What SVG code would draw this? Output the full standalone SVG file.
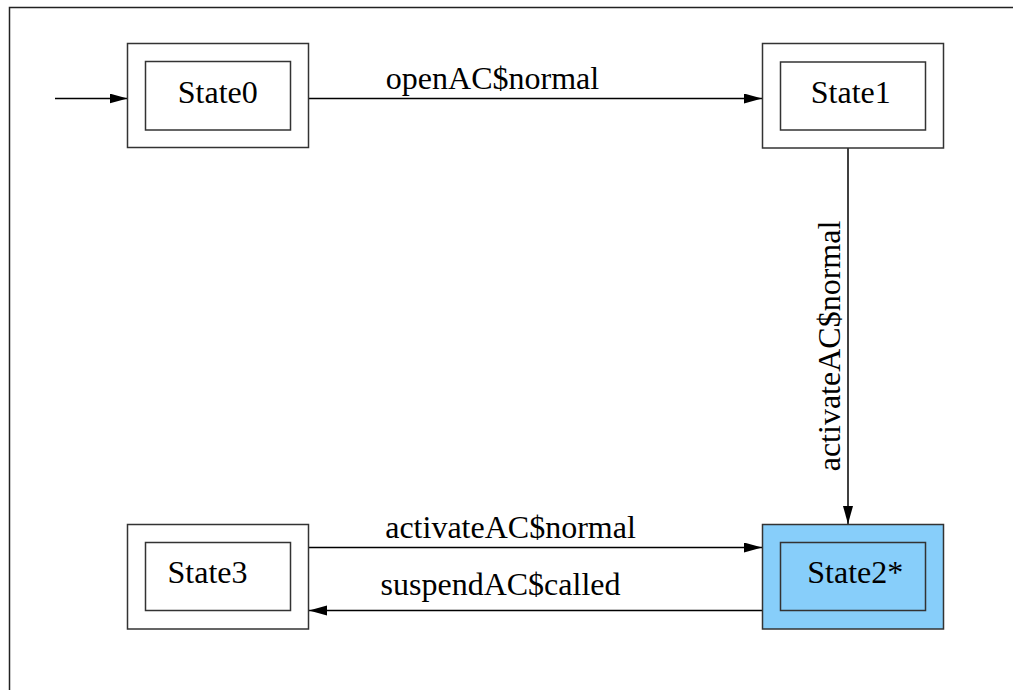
<svg xmlns="http://www.w3.org/2000/svg" width="1013" height="690" viewBox="0 0 1013 690">
  <style>
    .outer { fill: #ffffff; stroke: #333333; stroke-width: 1.5; }
    .inner { fill: none; stroke: #333333; stroke-width: 1.5; }
    .hl { fill: #87CEFA; }
    .lbl { font-family: "Liberation Serif", "Times New Roman", serif; font-size: 32px; fill: #000000; }
    .edge { fill: none; stroke: #000000; stroke-width: 1.5; }
  </style>
  <defs>
    <marker id="arrow" markerUnits="userSpaceOnUse" markerWidth="20" markerHeight="12" refX="18" refY="5" orient="auto">
      <path d="M0,0 L18,5 L0,10 Z" fill="#000000"/>
    </marker>
  </defs>
  <rect x="0" y="0" width="1013" height="690" fill="#ffffff"/>
  <path d="M9.5,690 L9.5,7.5 L1013,7.5" fill="none" stroke="#222222" stroke-width="1.5"/>

  <g id="connectors">
    <line class="edge" x1="55" y1="98.5" x2="127.5" y2="98.5" marker-end="url(#arrow)"/>
    <line class="edge" x1="308.5" y1="98.5" x2="762" y2="98.5" marker-end="url(#arrow)"/>
    <text class="lbl" x="492.5" y="88.5" text-anchor="middle">openAC$normal</text>
    <line class="edge" x1="848" y1="148" x2="848" y2="524" marker-end="url(#arrow)"/>
    <text class="lbl" transform="translate(840,346) rotate(-90)" text-anchor="middle">activateAC$normal</text>
    <line class="edge" x1="308.5" y1="547.5" x2="762" y2="547.5" marker-end="url(#arrow)"/>
    <text class="lbl" x="510.5" y="537.5" text-anchor="middle">activateAC$normal</text>
    <line class="edge" x1="762" y1="610.5" x2="309" y2="610.5" marker-end="url(#arrow)"/>
    <text class="lbl" x="500.5" y="595" text-anchor="middle">suspendAC$called</text>
  </g>

  <g id="State0">
    <rect class="outer" x="127.5" y="43.5" width="181" height="104"/>
    <rect class="inner" x="145.5" y="61.5" width="145" height="68.5"/>
    <text class="lbl" x="217.8" y="103.3" text-anchor="middle">State0</text>
  </g>
  <g id="State1">
    <rect class="outer" x="762.5" y="43.5" width="181" height="104.5"/>
    <rect class="inner" x="780.5" y="62" width="145" height="68"/>
    <text class="lbl" x="850.8" y="102.7" text-anchor="middle">State1</text>
  </g>
  <g id="State2">
    <rect class="outer hl" x="762.5" y="524.5" width="181" height="104.5"/>
    <rect class="inner" x="780.5" y="542.5" width="145" height="68"/>
    <text class="lbl" x="855.3" y="583.3" text-anchor="middle">State2*</text>
  </g>
  <g id="State3">
    <rect class="outer" x="127.5" y="524.5" width="181" height="104.5"/>
    <rect class="inner" x="145.5" y="542.5" width="145" height="68"/>
    <text class="lbl" x="207.5" y="583.3" text-anchor="middle">State3</text>
  </g>
</svg>
